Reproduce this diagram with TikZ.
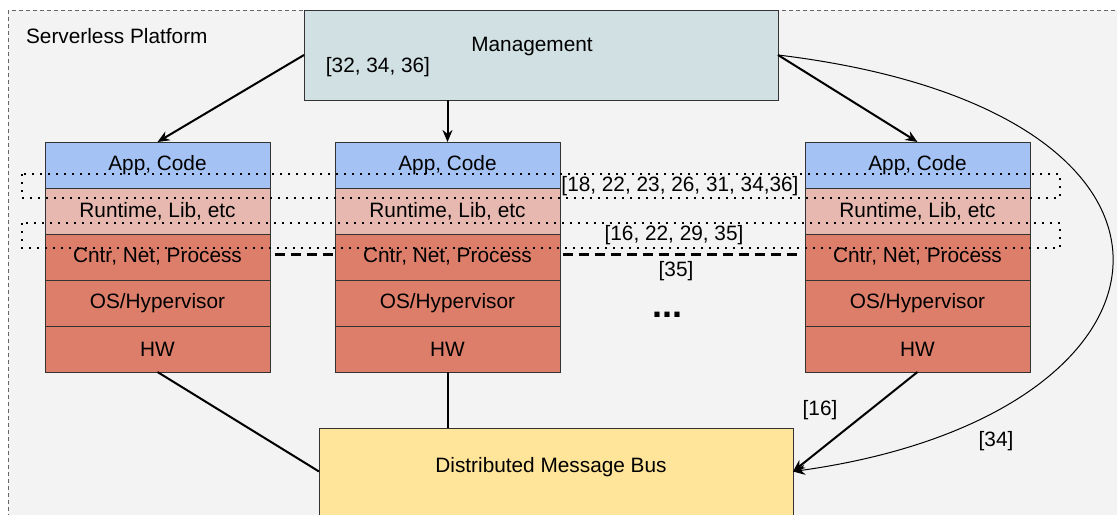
\documentclass[tikz,border=0pt]{standalone}
\usepackage{fontspec}
\setmainfont{Liberation Sans}
\usetikzlibrary{arrows.meta,positioning}
\definecolor{framegray}{HTML}{F3F3F3}
\definecolor{mgmtgray}{HTML}{D0E0E3}
\definecolor{appblue}{HTML}{A4C2F4}
\definecolor{rtpink}{HTML}{E6B8AF}
\definecolor{sysred}{HTML}{DD7E6B}
\definecolor{busyellow}{HTML}{FFE599}

\begin{document}
\begin{tikzpicture}[
    x=0.5pt, y=-0.5pt,
    every node/.style={font=\fontsize{10.4}{12}\selectfont, align=center},
    layer/.style={rectangle, draw=black!80, line width=0.5pt, outer sep=0pt, inner sep=0pt, minimum width=112.5pt, minimum height=23pt},
    appbox/.style={layer, fill=appblue},
    rtbox/.style={layer, fill=rtpink},
    sysbox/.style={layer, fill=sysred},
    mgmtbox/.style={rectangle, draw=black!80, fill=mgmtgray, line width=0.5pt, outer sep=0pt, minimum width=237pt, minimum height=45pt},
    busbox/.style={rectangle, draw=black!80, fill=busyellow, line width=0.5pt, outer sep=0pt, minimum width=237pt, minimum height=43.5pt},
    arr/.style={-{Stealth[length=6pt,width=5pt]}, line width=1pt},
    link/.style={line width=1pt},
    dotbox/.style={line width=1pt, dash pattern=on 1pt off 3pt},
    sharedline/.style={line width=1.5pt, dash pattern=on 5pt off 3pt}
]
\useasboundingbox (0,0) rectangle (1117,514);
\clip (0,0) rectangle (1117,514);
\fill[white] (0,0) rectangle (1117,514);

% platform frame
\draw[black!60, fill=framegray, line width=0.4pt, dash pattern=on 2pt off 1.5pt] (8,10) rectangle (1130,530);
\node[anchor=west] (platform) at (19,36) {Serverless Platform};

% shared kernel line (behind the stacks)
\draw[sharedline] (275,254) -- (800,254);

% management
\node[mgmtbox] (mgmt) at (541,55) {};
\node (mgmtlbl) at (532,47) {Management};
\node (mgmtref) at (378,67) {[32, 34, 36]};

% stack 1
\node[appbox] (app1) at (157.5,165) {App, Code};
\node[rtbox, below=0pt of app1] (rt1) {Runtime, Lib, etc};
\node[sysbox, below=0pt of rt1] (cn1) {Cntr, Net, Process};
\node[sysbox, below=0pt of cn1] (os1) {OS/Hypervisor};
\node[sysbox, below=0pt of os1] (hw1) {HW};

% stack 2
\node[appbox] (app2) at (447.5,165) {App, Code};
\node[rtbox, below=0pt of app2] (rt2) {Runtime, Lib, etc};
\node[sysbox, below=0pt of rt2] (cn2) {Cntr, Net, Process};
\node[sysbox, below=0pt of cn2] (os2) {OS/Hypervisor};
\node[sysbox, below=0pt of os2] (hw2) {HW};

% stack n
\node[appbox] (app3) at (917.5,165) {App, Code};
\node[rtbox, below=0pt of app3] (rt3) {Runtime, Lib, etc};
\node[sysbox, below=0pt of rt3] (cn3) {Cntr, Net, Process};
\node[sysbox, below=0pt of cn3] (os3) {OS/Hypervisor};
\node[sysbox, below=0pt of os3] (hw3) {HW};

\node[font=\fontsize{18}{20}\selectfont\bfseries] (more) at (667,315) {...};

% message bus
\node[busbox] (bus) at (556,471.5) {};
\node (buslbl) at (551,467) {Distributed Message Bus};

% connectors
\draw[arr] (mgmt.west) -- (app1.north);
\draw[arr] (app2.north |- mgmt.south) -- (app2.north);
\draw[arr] (mgmt.east) -- (app3.north);
\draw[link] (hw1.south) -- (bus.west);
\draw[link] (hw2.south) -- (hw2.south |- bus.north);
\draw[arr] (hw3.south) -- (bus.east);
\draw[-{Stealth[length=6pt,width=5pt]}, line width=0.5pt] (mgmt.east) .. controls (1242,111) and (1200,415) .. (bus.east);

% shared layers
\draw[dotbox] (22,174) rectangle (1060,198);
\draw[dotbox] (22,223) rectangle (1060,248);

% references
\node (ref1) at (680,186) {[18, 22, 23, 26, 31, 34,36]};
\node (ref2) at (674,235) {[16, 22, 29, 35]};
\node (ref3) at (676,271) {[35]};
\node (ref4) at (820,410) {[16]};
\node (ref5) at (996,441) {[34]};

\end{tikzpicture}
\end{document}
